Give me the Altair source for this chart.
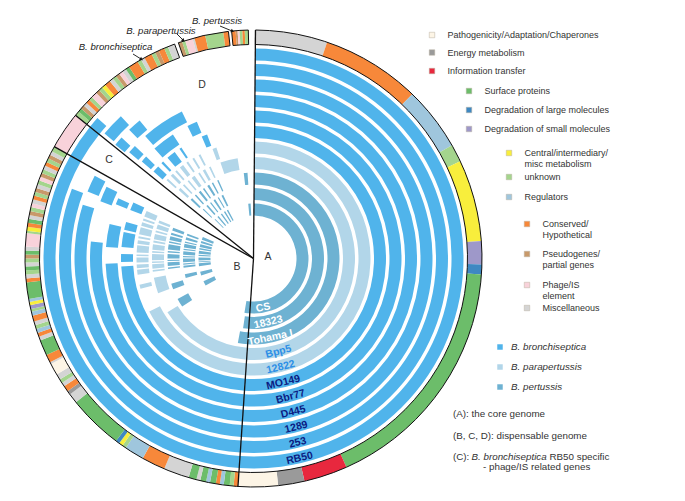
import math
import altair as alt
import pandas as pd

# ---------------- geometry (view coordinates; page = view + 8px margin)
CX, CY = 245.5, 250.5
BAND_IN, BAND_OUT = 214.0, 228.5
RING_OUT0, RING_STEP, RING_W = 210.0, 15.5, 12.0
FONT = "Liberation Sans"

# ---------------- strains (rings, outer to inner)
STRAINS = ["RB50", "253", "1289", "D445", "Bbr77", "MO149", "12822", "Bpp5", "Tohama I", "18323", "CS"]
SPECIES = ["bronch"] * 6 + ["para"] * 2 + ["pert"] * 3
LABEL_THETA = [167, 166.5, 165.8, 165.5, 165, 166.5, 166, 165, 168, 167, 169]

SPECIES_KEYS = ["bronch", "para", "pert"]
SPECIES_FILL = ["#50b4eb", "#b2d6e9", "#6eb2d2"]
SPECIES_TEXT = ["#0b1c82", "#2d8fe6", "#ffffff"]
SPECIES_NAMES = ["B. bronchiseptica", "B. parapertussis", "B. pertussis"]

# ---------------- ring segments (degrees, clockwise from 12 o'clock)
CORE = (0.5, 183.9)
REGION_B = {
    0: [(183.9, 299.3)],
    1: [(183.9, 291.0)],
    2: [(183.9, 287.5), (292.0, 297.5)],
    3: [(183.9, 276.0), (290.5, 296.0)],
    4: [(183.9, 268.0), (274.5, 283.5), (291.5, 294.0)],
    5: [(183.9, 266.5), (268.5, 272.0), (275.0, 281.5), (282.5, 286.0), (291.5, 295.0)],
    6: [(183.9, 243.0), (255.0, 257.0), (262.0, 264.5), (265.2, 267.0), (268.0, 270.5), (271.2, 272.0),
        (273.0, 276.5), (277.2, 279.0), (280.0, 281.0), (282.0, 285.5), (286.3, 288.0), (289.0, 290.0),
        (291.0, 294.0)],
    7: [(183.9, 238.0), (250.0, 259.0), (262.5, 263.5), (264.2, 266.8), (267.5, 268.3), (269.0, 272.5),
        (273.3, 274.2), (275.0, 278.0), (279.0, 280.2), (281.0, 284.0), (285.0, 286.0), (287.0, 289.5),
        (290.5, 292.0)],
    8: [(183.9, 190.5), (236.0, 242.0), (249.0, 253.0), (263.0, 264.0), (265.0, 267.5), (268.3, 269.0),
        (270.0, 273.0), (274.0, 275.0), (276.0, 279.5), (280.5, 281.5), (282.5, 285.0), (286.0, 287.5),
        (289.0, 291.0)],
    9: [(183.9, 188.5), (254.0, 257.0), (262.5, 264.0), (265.0, 266.0), (267.0, 270.0), (271.0, 272.0),
        (273.0, 276.0), (277.0, 278.0), (279.0, 282.0), (283.0, 284.0), (285.5, 287.5), (289.0, 290.5)],
    10: [(183.9, 189.5), (240.5, 245.5), (252.0, 256.0), (262.0, 265.0), (266.0, 267.0), (268.0, 271.0),
         (272.5, 274.0), (275.0, 278.0), (279.5, 281.0), (282.0, 285.0), (286.5, 288.5), (290.0, 293.0)],
}
REGION_C = {0: [(299.3, 308.8)]}
REGION_D = {
    0: [(308.8, 312.0)],
    1: [(310.0, 317.0)],
    2: [(309.5, 312.5), (316.0, 320.5)],
    3: [(310.5, 313.5), (318.5, 334.0)],
    4: [(311.0, 313.5), (318.0, 327.0), (333.5, 337.5)],
    5: [(311.0, 314.0), (316.0, 317.0), (319.5, 323.5), (326.0, 327.0), (337.0, 339.5)],
    6: [(312.0, 313.0), (315.0, 316.5), (318.0, 319.0), (321.0, 323.0), (325.0, 326.0), (328.5, 329.5),
        (332.0, 333.0), (339.5, 341.5)],
    7: [(312.5, 314.0), (316.0, 317.0), (319.5, 320.5), (322.5, 324.5), (327.0, 328.0), (330.0, 331.5),
        (334.0, 335.0), (341.0, 351.0)],
    8: [(313.0, 314.5), (317.0, 318.0), (320.5, 322.0), (324.0, 325.0), (327.5, 329.0), (331.0, 332.0),
        (335.0, 336.0), (353.5, 356.0)],
    9: [(314.0, 315.0), (318.0, 319.5), (322.0, 323.0), (325.5, 327.0), (329.5, 330.5), (333.0, 334.5)],
    10: [(315.0, 316.0), (319.0, 320.5), (323.5, 325.0), (327.5, 329.0), (331.0, 332.5), (354.5, 357.0)],
}

# ---------------- functional categories (outer band)
CODES = ["P", "E", "I", "S", "L", "M", "C", "U", "R", "H", "G", "F", "X"]
CAT_LABELS = ["Pathogenicity/Adaptation/Chaperones", "Energy metabolism", "Information transfer",
              "Surface proteins", "Degradation of large molecules", "Degradation of small molecules",
              "Central/intermediary/\nmisc metabolism", "unknown", "Regulators", "Conserved/\nHypothetical",
              "Pseudogenes/\npartial genes", "Phage/IS\nelement", "Miscellaneous"]
CAT_COLORS = ["#fdf5e6", "#9a9a9a", "#e8283e", "#6cbd6a", "#3e88c2", "#9e98c9", "#f8ee3c",
              "#a4d58d", "#9fc6dd", "#f7883a", "#c8996a", "#f8d2da", "#d4d4d4"]
LEG_X = [432, 432, 432, 469, 469, 469, 509, 509, 509, 527, 527, 527, 527]
LEG_Y = [35, 52.5, 71, 91, 110, 129, 153, 177, 197, 224, 254, 285, 308]

BAND_A = [(0.5, "X"), (18.8, "H"), (44.0, "R"), (60.3, "U"), (64.8, "C"), (85.6, "M"), (91.5, "L"),
          (94.0, "S"), (156.0, "I"), (167.1, "E"), (173.8, "P")]
BAND_A_END = 183.9
BAND_B = [(183.9, "H"), (185.0, "U"), (186.0, "S"), (187.5, "R"), (188.5, "H"), (189.5, "S"), (191.0, "R"),
          (192.0, "S"), (193.5, "X"), (194.5, "S"), (196.5, "X"), (203.0, "H"), (209.0, "R"), (214.0, "U"),
          (215.0, "C"), (216.0, "L"), (217.0, "S"), (231.0, "X"), (233.5, "E"), (234.5, "H"), (236.0, "X"),
          (237.0, "U"), (238.0, "X"), (239.5, "P"), (242.5, "X"), (243.0, "H"), (245.0, "S"), (249.0, "X"),
          (250.0, "H"), (251.0, "R"), (252.0, "U"), (253.0, "X"), (254.0, "H"), (255.5, "R"), (256.5, "U"),
          (257.2, "M"), (258.2, "C"), (259.0, "R"), (259.8, "S"), (264.0, "H"), (265.0, "X"), (266.0, "U"),
          (267.0, "S"), (268.0, "X"), (269.0, "U"), (270.0, "G"), (271.0, "S"), (272.0, "X"), (273.0, "F"),
          (276.4, "U"), (277.0, "C"), (278.0, "H"), (279.0, "S"), (280.0, "X"), (281.0, "G"), (282.0, "U"),
          (283.0, "F"), (284.0, "X"), (285.0, "H"), (286.0, "U"), (287.0, "G"), (288.0, "X"), (289.0, "U"),
          (290.0, "F"), (291.0, "G"), (292.0, "U"), (293.0, "X"), (294.0, "H"), (295.0, "U"), (296.0, "G"),
          (297.0, "X"), (298.0, "U")]
BAND_B_END = 299.3
BAND_C = [(299.3, "F")]
BAND_C_END = 308.8
BAND_D1 = [(308.8, "U"), (310.0, "S"), (311.0, "G"), (312.0, "X"), (313.0, "H"), (314.0, "U"), (315.0, "F"),
           (316.5, "G"), (317.5, "U"), (318.5, "C"), (319.5, "H"), (321.0, "X"), (322.0, "U"), (323.0, "G"),
           (324.0, "F"), (325.0, "X"), (326.0, "S"), (327.0, "H"), (329.5, "U"), (330.5, "X"), (331.5, "H"),
           (333.5, "U"), (334.5, "G"), (335.5, "H"), (337.0, "U"), (338.0, "X")]
BAND_D1_END = 339.8
BAND_D2 = [(340.8, "G"), (341.8, "U"), (342.6, "F"), (344.5, "X"), (345.0, "H"), (347.8, "U"), (352.4, "H")]
BAND_D2_END = 353.7
BAND_D3 = [(354.5, "H"), (355.5, "G"), (356.0, "F"), (356.5, "U"), (357.2, "H"), (357.8, "U")]
BAND_D3_END = 358.7
BAND_OUTLINES = [(0.5, BAND_D1_END), (340.8, BAND_D2_END), (354.5, BAND_D3_END)]

RADIAL_LINES = [0.5, 183.9, 299.3, 308.8]

# ---------------- texts
REGION_TEXT = ["A", "B", "C", "D"]
REGION_XY = [(260, 249), (229, 259), (101, 152), (194, 77)]
TOP_TEXT = ["B. pertussis", "B. parapertussis", "B. bronchiseptica"]
TOP_XY = [(209, 13), (153, 23), (107.5, 39)]
ARROWS = [(125, 46, 133, 51), (169, 26, 175, 32), (212, 18, 224, 23)]
NOTES = [("(A): the core genome", 445, 406, "normal"),
         ("(B, C, D): dispensable genome", 445, 428, "normal"),
         ("(C): ", 445, 449, "normal"),
         ("B. bronchiseptica", 463.5, 449, "italic"),
         ("RB50 specific", 541.5, 449, "normal"),
         ("- phage/IS related genes", 475, 459, "normal")]
SPEC_LEG_X, SPEC_LEG_Y = 492, [339, 359, 379]

CAT_COLOR = dict(zip(CODES, CAT_COLORS))
SP_FILL = dict(zip(SPECIES_KEYS, SPECIES_FILL))
SP_TEXT = dict(zip(SPECIES_KEYS, SPECIES_TEXT))


def to_segments(starts, end):
    out = []
    for i, (s, c) in enumerate(starts):
        e = starts[i + 1][0] if i + 1 < len(starts) else end
        out.append((s, e, c))
    return out


band_rows = []
for lst, end in [(BAND_A, BAND_A_END), (BAND_B, BAND_B_END), (BAND_C, BAND_C_END),
                 (BAND_D1, BAND_D1_END), (BAND_D2, BAND_D2_END), (BAND_D3, BAND_D3_END)]:
    for s, e, c in to_segments(lst, end):
        band_rows.append(dict(t0=math.radians(s), t1=math.radians(e), r0=BAND_IN, r1=BAND_OUT,
                              code=c, col=CAT_COLOR[c]))
band_df = pd.DataFrame(band_rows)

outline_df = pd.DataFrame([dict(t0=math.radians(s), t1=math.radians(e), r0=BAND_IN, r1=BAND_OUT)
                           for s, e in BAND_OUTLINES])

ring_rows = []
for k, name in enumerate(STRAINS):
    segs = [CORE] + REGION_B.get(k, []) + REGION_C.get(k, []) + REGION_D.get(k, [])
    r1 = RING_OUT0 - RING_STEP * k
    for s, e in segs:
        ring_rows.append(dict(ring=name, species=SPECIES[k], t0=math.radians(s), t1=math.radians(e),
                              r0=r1 - RING_W, r1=r1, col=SP_FILL[SPECIES[k]]))
ring_df = pd.DataFrame(ring_rows)

label_df = pd.DataFrame(dict(ring=STRAINS, th=LABEL_THETA, col=[SP_TEXT[s] for s in SPECIES],
                             r=[RING_OUT0 - RING_STEP * k - RING_W / 2 + 1 for k in range(len(STRAINS))]))

line_df = pd.DataFrame(dict(th=RADIAL_LINES, r=[BAND_OUT] * len(RADIAL_LINES)))


def arc_chart(df, **mk):
    return alt.Chart(df).mark_arc(**mk).encode(
        x=alt.value(CX), y=alt.value(CY),
        theta=alt.Theta("t0:Q", scale=None, stack=None), theta2=alt.Theta2("t1"),
        radius=alt.Radius("r0:Q", scale=None), radius2=alt.Radius2("r1"))


band = arc_chart(band_df, strokeWidth=0).encode(color=alt.Color("col:N", scale=None))
rings = arc_chart(ring_df, strokeWidth=0).encode(color=alt.Color("col:N", scale=None))
outline = arc_chart(outline_df, fillOpacity=0, stroke="#111111", strokeWidth=1)

radial = alt.Chart(line_df).transform_calculate(
    cx0=f"{CX}", cy0=f"{CY}",
    px=f"{CX} + datum.r * sin(datum.th * PI / 180)",
    py=f"{CY} - datum.r * cos(datum.th * PI / 180)",
).mark_rule(color="#111111", strokeWidth=1.3).encode(
    x=alt.X("cx0:Q", scale=None, axis=None), y=alt.Y("cy0:Q", scale=None, axis=None),
    x2=alt.X2("px:Q"), y2=alt.Y2("py:Q"))

ring_labels = alt.Chart(label_df).transform_calculate(
    px=f"{CX} + datum.r * sin(datum.th * PI / 180)",
    py=f"{CY} - datum.r * cos(datum.th * PI / 180)",
    rot="datum.th + 180",
).mark_text(font=FONT, fontSize=10.5, fontWeight="bold", baseline="middle", align="center").encode(
    x=alt.X("px:Q", scale=None, axis=None), y=alt.Y("py:Q", scale=None, axis=None),
    angle=alt.Angle("rot:Q", scale=None),
    color=alt.Color("col:N", scale=None),
    text="ring:N")

reg_df = pd.DataFrame(dict(t=REGION_TEXT, x=[p[0] for p in REGION_XY], y=[p[1] for p in REGION_XY]))
reg_text = alt.Chart(reg_df).mark_text(font=FONT, fontSize=10.5, color="#333333").encode(
    x=alt.X("x:Q", scale=None, axis=None), y=alt.Y("y:Q", scale=None, axis=None), text="t:N")

top_df = pd.DataFrame(dict(t=TOP_TEXT, x=[p[0] for p in TOP_XY], y=[p[1] for p in TOP_XY]))
top_text = alt.Chart(top_df).mark_text(font=FONT, fontSize=9.6, fontStyle="italic", color="#222222").encode(
    x=alt.X("x:Q", scale=None, axis=None), y=alt.Y("y:Q", scale=None, axis=None), text="t:N")

arr_df = pd.DataFrame(ARROWS, columns=["x0", "y0", "x1", "y1"])
arrows = alt.Chart(arr_df).mark_rule(color="#111111", strokeWidth=0.9).encode(
    x=alt.X("x0:Q", scale=None, axis=None), y=alt.Y("y0:Q", scale=None, axis=None),
    x2=alt.X2("x1:Q"), y2=alt.Y2("y1:Q"))
heads = alt.Chart(arr_df).transform_calculate(
    ang="atan2(datum.x1 - datum.x0, datum.y0 - datum.y1) * 180 / PI + 360"
).mark_point(shape="triangle", filled=True, size=14, color="#111111", opacity=1).encode(
    x=alt.X("x1:Q", scale=None, axis=None), y=alt.Y("y1:Q", scale=None, axis=None),
    angle=alt.Angle("ang:Q", scale=None))

leg_df = pd.DataFrame(dict(col=CAT_COLORS, label=CAT_LABELS, x=[v - 8 for v in LEG_X], y=[v - 8 for v in LEG_Y]))
leg_marks = alt.Chart(leg_df).mark_square(size=30, opacity=1, stroke="#b8b0a0", strokeWidth=0.5).encode(
    x=alt.X("x:Q", scale=None, axis=None), y=alt.Y("y:Q", scale=None, axis=None),
    color=alt.Color("col:N", scale=None))
leg_text = alt.Chart(leg_df).transform_calculate(tx="datum.x + 15.5").mark_text(
    font=FONT, fontSize=9, align="left", baseline="middle", color="#333333", lineBreak="\n", lineHeight=10.5
).encode(x=alt.X("tx:Q", scale=None, axis=None), y=alt.Y("y:Q", scale=None, axis=None), text="label:N")

sp_df = pd.DataFrame(dict(col=SPECIES_FILL, name=SPECIES_NAMES, x=[SPEC_LEG_X] * 3, y=SPEC_LEG_Y))
sp_marks = alt.Chart(sp_df).mark_square(size=30, opacity=1).encode(
    x=alt.X("x:Q", scale=None, axis=None), y=alt.Y("y:Q", scale=None, axis=None),
    color=alt.Color("col:N", scale=None))
sp_text = alt.Chart(sp_df).transform_calculate(tx="datum.x + 11").mark_text(
    font=FONT, fontSize=9.8, fontStyle="italic", align="left", baseline="middle", color="#333333"
).encode(x=alt.X("tx:Q", scale=None, axis=None), y=alt.Y("y:Q", scale=None, axis=None), text="name:N")

notes_df = pd.DataFrame(NOTES, columns=["t", "x", "y", "style"])
notes_n = alt.Chart(notes_df).transform_filter("datum.style == 'normal'").mark_text(
    font=FONT, fontSize=9.8, align="left", baseline="middle", color="#333333"
).encode(x=alt.X("x:Q", scale=None, axis=None), y=alt.Y("y:Q", scale=None, axis=None), text="t:N")
notes_i = alt.Chart(notes_df).transform_filter("datum.style == 'italic'").mark_text(
    font=FONT, fontSize=9.8, fontStyle="italic", align="left", baseline="middle", color="#333333"
).encode(x=alt.X("x:Q", scale=None, axis=None), y=alt.Y("y:Q", scale=None, axis=None), text="t:N")

chart = alt.layer(
    band, rings, outline, radial, ring_labels, reg_text, top_text, arrows, heads,
    leg_marks, leg_text, sp_marks, sp_text, notes_n, notes_i
).properties(width=665, height=480, padding=0, autosize="none").configure_view(stroke=None)

chart.save("out.html", embed_options={"renderer": "svg", "actions": False})
